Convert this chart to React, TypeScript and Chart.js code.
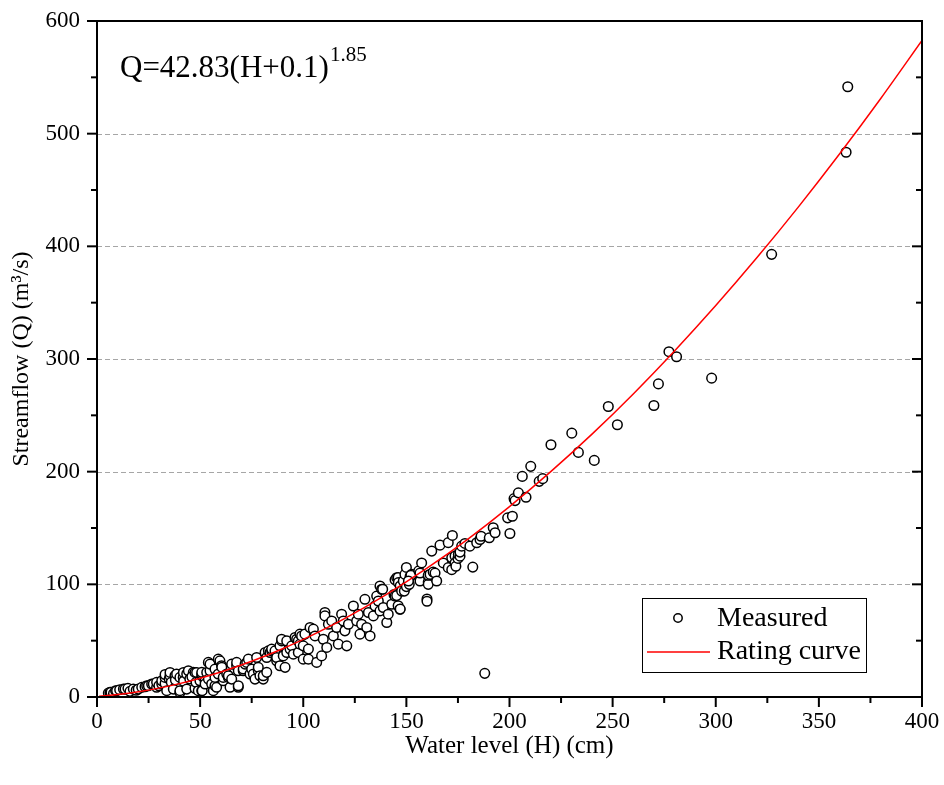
import React, { useEffect, useRef } from "react";
import { Chart, registerables } from "chart.js";

Chart.register(...registerables);

const FONT = "'Liberation Serif', 'Times New Roman', serif";

const xAxisTitle = "Water level (H) (cm)";
const yAxisTitle = "Streamflow (Q) (m³/s)";
const equationMain = "Q=42.83(H+0.1)";
const equationPower = "1.85";
const legendLabels = ["Measured", "Rating curve"];

const xMajorTicks = [0, 50, 100, 150, 200, 250, 300, 350, 400];
const xMinorTicks = [25, 75, 125, 175, 225, 275, 325, 375];
const yMajorTicks = [0, 100, 200, 300, 400, 500, 600];
const yMinorTicks = [50, 150, 250, 350, 450, 550];
const yGridLines = [100, 200, 300, 400, 500];

// Rating curve: [H (cm), Q (m3/s)]
const curveH = [1, 5, 10, 20, 30, 40, 50, 60, 70, 80, 90, 100, 120, 140, 160, 180, 200, 220, 240, 260, 280, 300, 320, 340, 360, 380, 400];
const curveQ = [0.72, 1.28, 2.18, 4.62, 7.87, 11.88, 16.65, 22.14, 28.35, 35.25, 42.83, 51.09, 69.59, 90.68, 114.3, 140.4, 169.0, 200.0, 233.3, 269.0, 307.1, 347.4, 390.0, 434.8, 481.9, 531.2, 582.7];

// Measured points [H (cm), Q (m3/s)]
const measuredLow: [number, number][] = [
  [5.5, 3.5], [6.3, 4.1], [6.8, 4.1], [8, 3], [9, 5.6], [9.5, 5.6], [11, 6.5], [12.8, 7.1], [13.6, 7], [15, 7.7],
  [16, 5], [17.6, 7], [19, 6], [20, 7], [21.7, 8.6], [23.3, 9.1], [24.1, 10], [24.9, 10], [26.5, 11.5], [27.3, 11.5],
  [28.9, 8.6], [28.9, 13], [30, 10], [31.4, 11.5], [31.4, 14.4], [33, 12], [33, 17.4], [33, 20], [33.8, 5.6], [35, 16],
  [35.4, 18.9], [35.4, 21.8], [36, 13], [37, 7], [37.8, 18.9], [38, 15], [38.6, 20.4], [40.2, 4.1], [40.2, 5.6], [40.2, 17.4],
  [41.8, 17.4], [41.9, 21.8], [42, 14], [43.5, 7], [43.5, 20.4], [44.3, 23.3], [45, 16], [46.7, 21.9], [46, 18], [47.5, 7.7],
  [47.5, 21.8], [48, 13], [48.3, 21.8], [49.1, 5.6], [49.9, 14.4], [50.8, 5.6], [50.8, 18.9], [50.8, 20.4], [50.8, 21.9], [51, 5.6],
];
const measuredMid: [number, number][] = [
  [52.4, 14.4], [52.4, 11.5], [53.2, 21.8], [54, 15.9], [54, 30.7], [54.8, 23.3], [54.8, 29.2], [55.6, 11.5], [56.4, 5.6], [57.2, 10],
  [57.2, 17.4], [57.2, 24.8], [58, 8.6], [58.8, 20.4], [58.8, 33.6], [59.6, 32.1], [60.4, 27.7], [60.5, 26.3], [61.2, 14.4], [61.2, 17.4],
  [62.9, 20.4], [63.7, 17.4], [63.7, 18.9], [64.5, 8.6], [65.3, 15.9], [65.3, 29.2], [67.7, 27.7], [67.7, 30.7], [68.5, 8.6], [68.5, 10],
  [68.5, 23.3], [70.9, 23.3], [70.9, 24.8], [71.8, 29.2], [72.6, 30.7], [73.4, 33.6], [74.2, 20.4], [75, 24.8], [75.8, 20.4], [76.6, 15.9],
  [77.4, 35.1], [78.2, 23.3], [78.2, 26.3], [79, 18.9], [80.6, 15.9], [80.6, 18.9], [81.5, 39.5], [82.3, 21.9], [82.3, 35.1], [83.1, 41],
  [83.9, 39.5], [84.7, 41], [84.7, 42.5], [86.3, 41], [87.1, 32.1], [87.1, 35.1], [88.7, 27.7], [88.7, 45.4], [89.5, 49.8], [89.5, 51.3],
  [90.3, 36.5], [91.2, 26.3], [92, 39.5], [92, 49.8], [93.6, 42.5], [94.4, 45.4], [95.2, 38], [96, 52.8], [96.8, 51.3], [97.6, 39.5],
  [97.6, 49.8], [98.4, 46.9], [98.4, 55.8], [99.2, 54.2], [100, 33.6], [100, 45.4], [100.8, 55.8],
];
const measuredUpper: [number, number][] = [
  [102.5, 42.5], [102.5, 33.6], [103.3, 61.7], [104.9, 60.2], [105.7, 54.2], [106.5, 30.7], [108.9, 36.5], [109.7, 51.3], [110.5, 75], [110.5, 72],
  [111.4, 44], [112.2, 64.6], [113.8, 67.5], [114.6, 54.2], [116.2, 61.7], [117, 46.9], [118.6, 73.5], [119.4, 67.5], [120.2, 58.7], [121.1, 45.4],
  [121.9, 64.6], [124.3, 80.8], [125.9, 67.5], [126.7, 73.5], [127.5, 55.8], [128.3, 64.6], [129.9, 86.7], [130.8, 61.7], [131.6, 75], [132.4, 54.2],
  [134, 72], [134.8, 80.8], [135.6, 89.6], [136.4, 85.2], [137.2, 76.4], [137.2, 98.5], [138, 95.6], [138.5, 95.6], [138.8, 79.4], [140.5, 66.1],
  [141.2, 73.5], [142.9, 82.3], [144, 91], [144.5, 89.6], [144.5, 104], [145.3, 90], [145.3, 105.9], [146, 81], [146, 106], [146.1, 101.5],
  [146.9, 77.9], [147, 98.5], [147, 78], [147.7, 94], [148.5, 103], [149, 94], [149.3, 108.8], [150, 98], [150, 115],
];
const measuredHigh: [number, number][] = [
  [151.4, 100], [151.8, 107], [152.6, 109], [152.2, 108], [151, 103], [156, 112], [156.6, 103], [156.6, 110], [157.4, 119], [160, 87],
  [160, 85], [160.6, 102], [160.6, 100], [160.6, 108], [161.5, 108.8], [162.3, 129.5], [163, 110.9], [163.9, 110], [164.7, 103], [166.3, 134.8],
  [167.9, 119], [170.3, 114.8], [170.3, 137], [172, 113], [172, 123.6], [172.3, 143.4], [173.6, 125], [173.6, 119], [174, 116], [175, 123],
  [175.2, 126.5], [176, 125], [176, 128.6], [176.8, 133.9], [178.4, 136.3], [180.8, 133.9], [182.2, 115.3], [184.1, 136.9], [185.7, 139.8], [186.2, 142.7],
  [188, 21], [190.2, 141.3], [192.1, 150.2], [193, 145.8], [199.1, 159], [200.2, 145.1], [201.4, 160.4],
];
const measuredTop: [number, number][] = [
  [202.2, 176.1], [202.7, 174.3], [204.3, 181.2], [206.2, 195.8], [208, 177.3], [210.3, 204.7], [214.4, 191.4], [216.1, 193.8], [220.1, 223.9], [230.2, 234.2],
  [233.4, 217.1], [241.1, 210], [247.9, 257.8], [252.3, 241.6], [270, 258.7], [272.2, 277.9], [277.3, 306.5], [281, 302], [298, 283], [327.1, 392.9],
  [363.2, 483.5], [364, 541.6],
];

const framePlugin = {
  id: "frameDecor",
  beforeDatasetsDraw(chart: any) {
    const { ctx, chartArea: a, scales } = chart;
    const y = scales.y;
    ctx.save();
    ctx.strokeStyle = "#a6a6a6";
    ctx.lineWidth = 1;
    ctx.setLineDash([5, 3]);
    for (const v of yGridLines) {
      const py = Math.round(y.getPixelForValue(v)) + 0.5;
      ctx.beginPath();
      ctx.moveTo(a.left, py);
      ctx.lineTo(a.right, py);
      ctx.stroke();
    }
    ctx.restore();
  },
  afterDatasetsDraw(chart: any) {
    const { ctx, chartArea: a, scales } = chart;
    const x = scales.x;
    const y = scales.y;
    ctx.save();
    ctx.strokeStyle = "#000";
    ctx.lineWidth = 2;
    ctx.setLineDash([]);
    ctx.strokeRect(a.left, a.top, a.right - a.left, a.bottom - a.top);
    const line = (x1: number, y1: number, x2: number, y2: number) => {
      ctx.beginPath();
      ctx.moveTo(x1, y1);
      ctx.lineTo(x2, y2);
      ctx.stroke();
    };
    for (const v of xMajorTicks) {
      const px = x.getPixelForValue(v);
      line(px, a.bottom, px, a.bottom + 10);
    }
    for (const v of xMinorTicks) {
      const px = x.getPixelForValue(v);
      line(px, a.bottom, px, a.bottom + 6);
    }
    for (const v of yMajorTicks) {
      const py = y.getPixelForValue(v);
      line(a.left - 10, py, a.left, py);
      line(a.right - 10, py, a.right, py);
    }
    for (const v of yMinorTicks) {
      const py = y.getPixelForValue(v);
      line(a.left - 6, py, a.left, py);
      line(a.right - 6, py, a.right, py);
    }
    ctx.restore();
  },
  afterDraw(chart: any) {
    const { ctx } = chart;
    ctx.save();
    // equation
    ctx.fillStyle = "#000";
    ctx.textBaseline = "alphabetic";
    ctx.textAlign = "left";
    ctx.font = `31px ${FONT}`;
    ctx.fillText(equationMain, 120, 77);
    const w = ctx.measureText(equationMain).width;
    ctx.font = `21px ${FONT}`;
    ctx.fillText(equationPower, 120 + w + 1, 61);

    // legend
    ctx.strokeStyle = "#000";
    ctx.lineWidth = 1;
    ctx.strokeRect(642.5, 598.5, 224, 74);
    ctx.beginPath();
    ctx.arc(678, 618, 4.2, 0, Math.PI * 2);
    ctx.fillStyle = "#fff";
    ctx.fill();
    ctx.lineWidth = 1.5;
    ctx.stroke();
    ctx.strokeStyle = "#ff0000";
    ctx.lineWidth = 1.5;
    ctx.beginPath();
    ctx.moveTo(647, 652);
    ctx.lineTo(710, 652);
    ctx.stroke();
    ctx.fillStyle = "#000";
    ctx.font = `28px ${FONT}`;
    ctx.textBaseline = "middle";
    ctx.fillText(legendLabels[0], 717, 619);
    ctx.fillText(legendLabels[1], 717, 652);
    ctx.restore();
  },
};

export default function App() {
  const canvasRef = useRef<HTMLCanvasElement | null>(null);

  useEffect(() => {
    if (!canvasRef.current) return;
    const measured = [...measuredLow, ...measuredMid, ...measuredUpper, ...measuredHigh, ...measuredTop].map(([h, q]) => ({ x: h, y: q }));
    const curve = curveH.map((h, i) => ({ x: h, y: curveQ[i] }));
    const chart = new Chart(canvasRef.current, {
      type: "scatter",
      data: {
        datasets: [
          {
            label: legendLabels[1],
            data: curve,
            showLine: true,
            borderColor: "#ff0000",
            borderWidth: 1.5,
            pointRadius: 0,
            cubicInterpolationMode: "monotone",
            order: 0,
          } as any,
          {
            label: legendLabels[0],
            data: measured,
            pointStyle: "circle",
            pointRadius: 4.8,
            pointBorderWidth: 1.5,
            pointBackgroundColor: "#ffffff",
            pointBorderColor: "#000000",
            order: 1,
          } as any,
        ],
      },
      options: {
        animation: false,
        responsive: false,
        maintainAspectRatio: false,
        layout: { padding: { top: 21, right: 22, left: 0, bottom: 0 } },
        plugins: { legend: { display: false }, tooltip: { enabled: false } },
        scales: {
          x: {
            type: "linear",
            min: 0,
            max: 400,
            ticks: { stepSize: 50, color: "#000", font: { family: FONT, size: 23 }, padding: 11, maxRotation: 0 },
            grid: { display: false, drawTicks: false },
            border: { display: false },
            title: { display: true, text: xAxisTitle, color: "#000", font: { family: FONT, size: 25 }, padding: { top: 0, bottom: 24 } },
            afterFit(s: any) {
              s.height = 88;
              s.paddingLeft = 0;
              s.paddingRight = 0;
            },
          },
          y: {
            type: "linear",
            min: 0,
            max: 600,
            ticks: { stepSize: 100, color: "#000", font: { family: FONT, size: 23 }, padding: 17 },
            grid: { display: false, drawTicks: false },
            border: { display: false },
            title: { display: true, text: yAxisTitle, color: "#000", font: { family: FONT, size: 24 }, padding: { top: 7, bottom: 0 } },
            afterFit(s: any) {
              s.width = 97;
              s.paddingTop = 0;
              s.paddingBottom = 0;
            },
          },
        } as any,
      },
      plugins: [framePlugin],
    });
    return () => chart.destroy();
  }, []);

  return (
    <div style={{ position: "absolute", left: 0, top: 0, width: 944, height: 785, background: "#fff" }}>
      <canvas ref={canvasRef} width={944} height={785} style={{ display: "block" }} />
    </div>
  );
}
